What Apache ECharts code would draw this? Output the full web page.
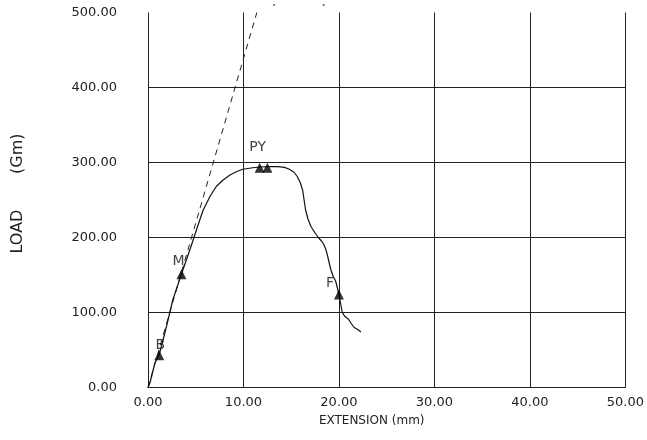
<!DOCTYPE html>
<html>
<head>
<meta charset="utf-8">
<script src="https://cdn.jsdelivr.net/npm/echarts@6/dist/echarts.min.js"></script>
<style>html,body{margin:0;padding:0;background:#fff;}#c{width:647px;height:440px;}</style>
</head>
<body>
<div id="c"></div>
<script>
// Load–extension curve (x: mm, y: Gm)
var curveX = [0, 0.2, 0.38, 0.73, 1.18, 1.95, 2.6, 3.5, 4.5, 5.2, 5.76, 6.5, 7.15, 7.8, 8.54, 9.3, 9.93, 10.97, 11.7, 12.7, 13.6, 14.3, 14.8, 15.3, 15.65, 15.95, 16.2, 16.35, 16.5, 16.75, 17.05, 17.5, 17.9, 18.2, 18.4, 18.6, 18.8, 19.0, 19.15, 19.4, 19.65, 19.85, 20.0, 20.2, 20.35, 20.6, 21.0, 21.3, 21.6, 22.0, 22.3];
var curveY = [0, 6, 15, 33, 44, 82, 117, 151, 188, 215, 236, 255, 268, 276, 283, 288, 291, 293, 294, 294.5, 294.5, 293.5, 291, 287, 281, 273, 263, 250, 237, 225, 215, 206, 199, 195, 191, 185, 176, 165, 157, 148, 142, 132, 124, 110, 100, 95, 91, 85, 80, 77, 74];
// Dashed initial-slope line
var slopeX = [0, 11.4];
var slopeY = [0, 500];
// Marked points
var markNames = ['B', 'M', 'P', 'Y', 'F'];
var markX = [1.18, 3.5, 11.7, 12.5, 20.0];
var markY = [43, 151, 293, 293, 124];
var markText = ['B', 'M', 'PY', '', 'F'];
// Stray dots at the top
var dotX = [13.2, 18.4];
var dotY = [510, 510];
// Axes
var xTicks = [0, 10, 20, 30, 40, 50];
var yTicks = [0, 100, 200, 300, 400, 500];

var labelOffsets = [[1, 4], [-3, 1], [-2, -6], [0, 0], [-9, 3]];

function zip(a, b) { return a.map(function (v, i) { return [v, b[i]]; }); }

var font = 'DejaVu Sans';
var chart = echarts.init(document.getElementById('c'), null, { renderer: 'canvas' });
chart.setOption({
  animation: false,
  backgroundColor: '#fff',
  grid: { left: 148, right: 20, top: 12.5, bottom: 52.5 },
  xAxis: {
    type: 'value', min: xTicks[0], max: xTicks[xTicks.length - 1], interval: 10,
    name: 'EXTENSION (mm)', nameLocation: 'middle', nameGap: 27,
    nameTextStyle: { fontFamily: font, fontSize: 12, color: '#222', padding: [0, 30, 0, 0] },
    axisLine: { show: true, lineStyle: { color: '#222', width: 1 } },
    axisTick: { show: false },
    axisLabel: { margin: 9, fontFamily: font, fontSize: 13, color: '#222', formatter: function (v) { return v.toFixed(2); } },
    splitLine: { show: true, lineStyle: { color: '#222', width: 1 } }
  },
  yAxis: {
    type: 'value', min: yTicks[0], max: yTicks[yTicks.length - 1], interval: 100,
    name: 'LOAD       (Gm)', nameLocation: 'middle', nameGap: 122, nameRotate: 90,
    nameTextStyle: { fontFamily: font, fontSize: 16, color: '#222', padding: [0, 0, 0, 13] },
    axisLine: { show: false },
    axisTick: { show: false },
    axisLabel: { margin: 31, fontFamily: font, fontSize: 13, color: '#222', formatter: function (v) { return v.toFixed(2); } },
    splitLine: { show: true, showMaxLine: false, lineStyle: { color: '#222', width: 1 } }
  },
  series: [
    {
      type: 'line', data: zip(slopeX, slopeY), symbol: 'none', smooth: false,
      lineStyle: { color: '#222', width: 1, type: [6, 5] }, z: 2
    },
    {
      type: 'line', data: zip(curveX, curveY), symbol: 'none', smooth: false,
      lineStyle: { color: '#111', width: 1.2 }, z: 3
    },
    {
      type: 'scatter', symbol: 'triangle', symbolSize: [10, 10],
      itemStyle: { color: '#000' }, z: 4,
      data: markX.map(function (x, i) {
        return {
          name: markNames[i], value: [x, markY[i]],
          label: {
            show: markText[i] !== '', formatter: markText[i], position: 'top', distance: 2,
            offset: labelOffsets[i], fontFamily: font, fontSize: 14, color: '#111'
          }
        };
      })
    },
    {
      type: 'scatter', symbol: 'circle', symbolSize: 2, clip: false,
      itemStyle: { color: '#333' }, data: zip(dotX, dotY), z: 1
    }
  ]
});
</script>
</body>
</html>
